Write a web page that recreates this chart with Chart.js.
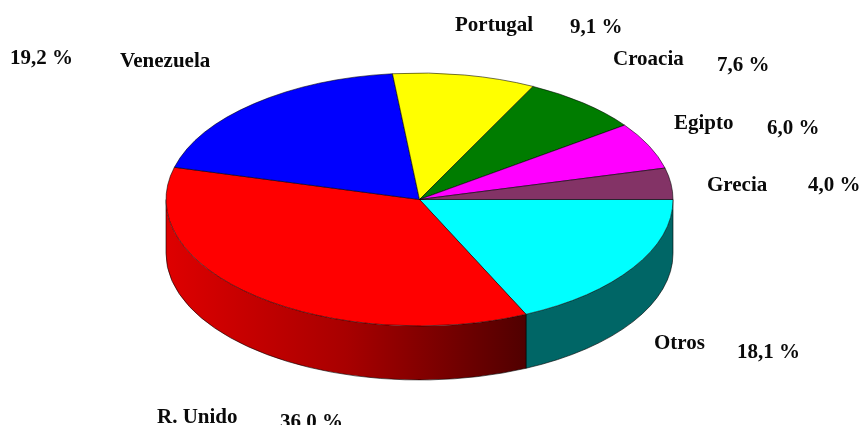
<!DOCTYPE html>
<html>
<head>
<meta charset="utf-8">
<style>html,body{margin:0;padding:0;background:#fff;overflow:hidden}canvas{display:block}</style>
<script src="https://cdn.jsdelivr.net/npm/chart.js@4"></script>
</head>
<body>
<canvas id="c" width="861" height="425"></canvas>
<script>
const categories = ['Otros', 'R. Unido', 'Venezuela', 'Portugal', 'Croacia', 'Egipto', 'Grecia'];
const shares = [18.1, 36.0, 19.2, 9.1, 7.6, 6.0, 4.0];
const sliceColors = ['#00ffff', '#ff0000', '#0000ff', '#ffff00', '#007c00', '#ff00ff', '#833366'];
const nameAnchors = [[654, 349], [157, 423], [120, 67], [455, 31], [613, 65], [674, 129], [707, 191]];
const shareAnchors = [[737, 358], [280, 428], [10, 64], [570, 33], [717, 71], [767, 134], [808, 191]];

const SQUASH = 126.5 / 253.5;
const DEPTH = 54;

function pctText(v) { return v.toFixed(1).replace('.', ',') + ' %'; }

const pie3d = {
  id: 'pie3d',
  beforeDatasetsDraw(chart) {
    const ctx = chart.ctx;
    const arcs = chart.getDatasetMeta(0).data;
    const a0 = arcs[0];
    const cx = a0.x, cy = a0.y, R = a0.outerRadius, r2 = R * SQUASH;
    // side wall, from the library's own arc geometry
    arcs.forEach((arc, i) => {
      const s = Math.max(arc.startAngle, 0), e = Math.min(arc.endAngle, Math.PI);
      if (e <= s) return;
      ctx.beginPath();
      ctx.ellipse(cx, cy, R, r2, 0, s, e, false);
      ctx.ellipse(cx, cy + DEPTH, R, r2, 0, e, s, true);
      ctx.closePath();
      if (i === 0) {
        ctx.fillStyle = '#006666';
      } else {
        const g = ctx.createLinearGradient(cx - R, 0, cx + R * Math.cos(s), 0);
        g.addColorStop(0, '#de0000');
        g.addColorStop(0.5, '#a80000');
        g.addColorStop(1, '#500000');
        ctx.fillStyle = g;
      }
      ctx.fill();
      ctx.strokeStyle = 'rgba(0,0,0,0.75)';
      ctx.lineWidth = 0.8;
      ctx.beginPath();
      ctx.ellipse(cx, cy + DEPTH, R, r2, 0, s, e, false);
      ctx.stroke();
      ctx.beginPath();
      const x = cx + R * Math.cos(s), y = cy + r2 * Math.sin(s);
      ctx.moveTo(x, y);
      ctx.lineTo(x, y + DEPTH);
      const xe = cx + R * Math.cos(e), ye = cy + r2 * Math.sin(e);
      ctx.moveTo(xe, ye);
      ctx.lineTo(xe, ye + DEPTH);
      ctx.stroke();
    });
    ctx.save();
    ctx.translate(cx, cy);
    ctx.scale(1, SQUASH);
    ctx.translate(-cx, -cy);
  },
  afterDatasetsDraw(chart) {
    const ctx = chart.ctx;
    ctx.restore();
    ctx.save();
    ctx.fillStyle = '#0a0a0a';
    ctx.font = 'bold 21px "Liberation Serif"';
    ctx.textAlign = 'left';
    ctx.textBaseline = 'alphabetic';
    categories.forEach((name, i) => {
      ctx.fillText(name, nameAnchors[i][0], nameAnchors[i][1]);
      ctx.fillText(pctText(shares[i]), shareAnchors[i][0], shareAnchors[i][1]);
    });
    ctx.restore();
  }
};

new Chart(document.getElementById('c'), {
  type: 'pie',
  data: {
    labels: categories,
    datasets: [{
      data: shares,
      backgroundColor: sliceColors,
      borderColor: 'rgba(0,0,0,0.75)',
      borderWidth: 1,
      clip: false,
      radius: 253.5
    }]
  },
  options: {
    responsive: false,
    animation: false,
    rotation: 90,
    layout: { padding: { left: 0, top: 0, right: 22, bottom: 26 } },
    plugins: { legend: { display: false }, tooltip: { enabled: false }, title: { display: false } }
  },
  plugins: [pie3d]
});
</script>
</body>
</html>
